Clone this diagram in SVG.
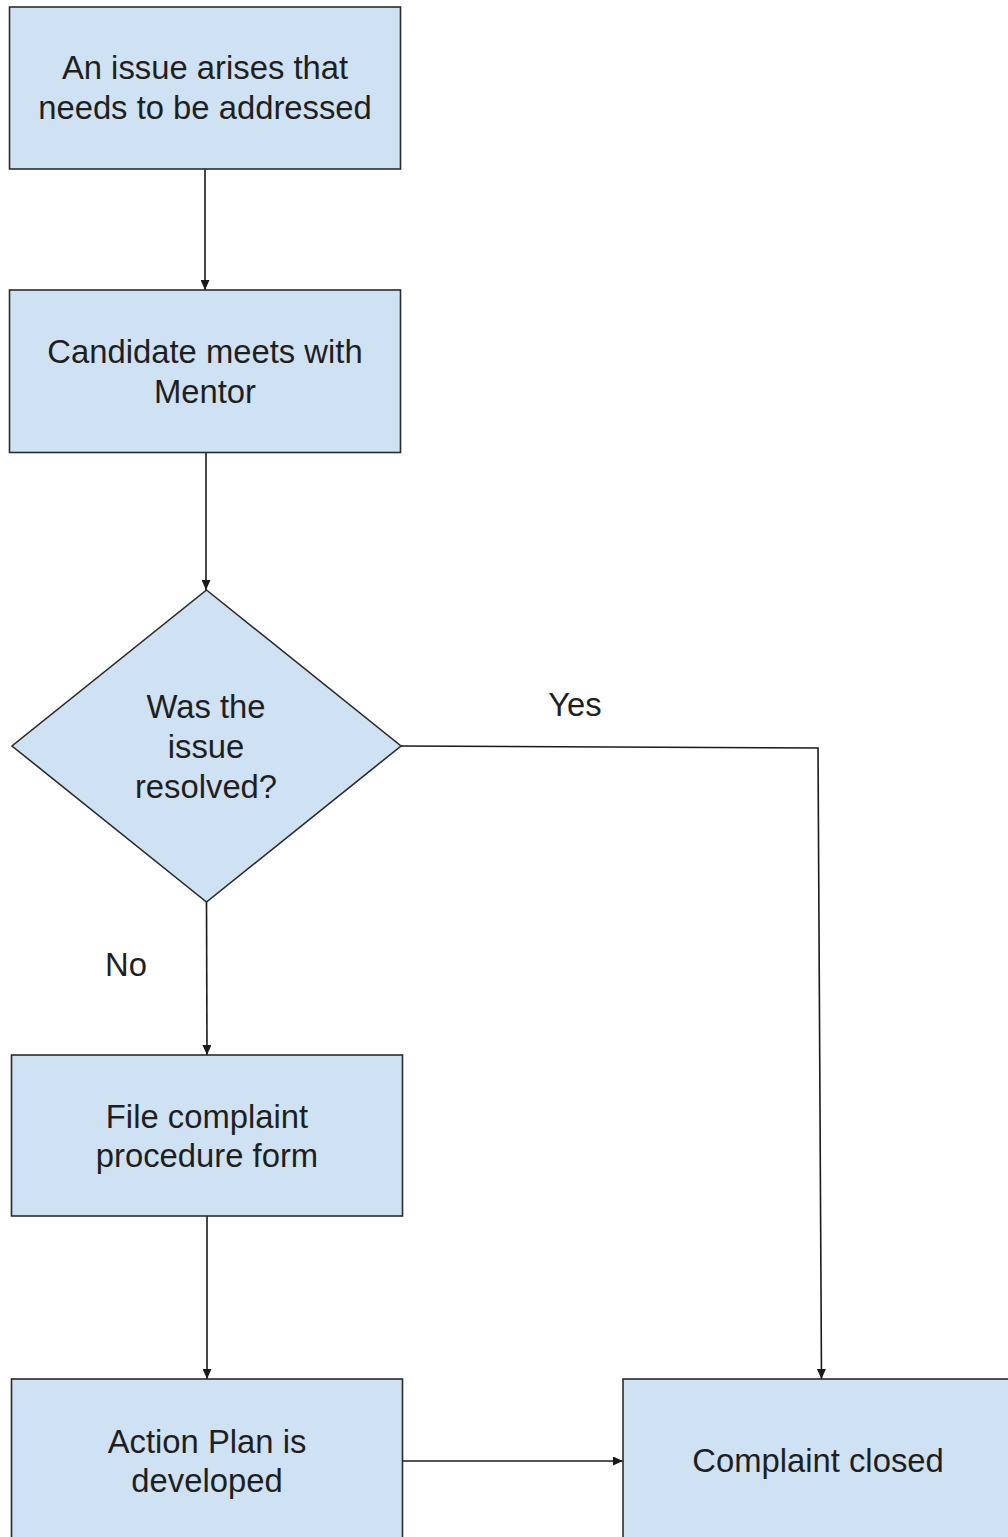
<svg xmlns="http://www.w3.org/2000/svg" width="1008" height="1537" viewBox="0 0 1008 1537">
  <style>
    .box { fill: #cfe2f3; stroke: #2b2b2b; stroke-width: 1.6; }
    .lbl { font-family: "Liberation Sans", Arial, sans-serif; font-size: 32.8px; fill: #1f1f1f; text-anchor: middle; }
    .conn { fill: none; stroke: #1a1a1a; stroke-width: 1.6; }
  </style>
  <defs>
    <marker id="arr" markerUnits="userSpaceOnUse" markerWidth="10" markerHeight="9" refX="10" refY="4.5" orient="auto">
      <path d="M0,0 L10,4.5 L0,9 z" fill="#1a1a1a"/>
    </marker>
  </defs>
  <rect width="1008" height="1537" fill="#ffffff"/>

  <g id="connectors">
    <line class="conn" x1="205" y1="169" x2="205" y2="290" marker-end="url(#arr)"/>
    <line class="conn" x1="206" y1="453" x2="206" y2="590" marker-end="url(#arr)"/>
    <line class="conn" x1="206.5" y1="902" x2="207" y2="1055" marker-end="url(#arr)"/>
    <line class="conn" x1="207" y1="1216" x2="207" y2="1379" marker-end="url(#arr)"/>
    <line class="conn" x1="402" y1="1461" x2="623" y2="1461" marker-end="url(#arr)"/>
    <polyline class="conn" points="401,746 818,748 821.5,1379" marker-end="url(#arr)"/>
    <text class="lbl" x="575" y="716">Yes</text>
    <text class="lbl" x="126" y="976">No</text>
  </g>

  <g id="n1">
    <rect class="box" x="9.5" y="7" width="391" height="162"/>
    <text class="lbl" x="205" y="79">An issue arises that</text>
    <text class="lbl" x="205" y="119">needs to be addressed</text>
  </g>
  <g id="n2">
    <rect class="box" x="9.5" y="290" width="391" height="162.5"/>
    <text class="lbl" x="205" y="363">Candidate meets with</text>
    <text class="lbl" x="205" y="403">Mentor</text>
  </g>
  <g id="n3">
    <polygon class="box" points="206.5,590 401,746 206.5,902 12,746"/>
    <text class="lbl" x="206" y="718">Was the</text>
    <text class="lbl" x="206" y="758">issue</text>
    <text class="lbl" x="206" y="798">resolved?</text>
  </g>
  <g id="n4">
    <rect class="box" x="11.5" y="1055" width="391" height="161"/>
    <text class="lbl" x="207" y="1128">File complaint</text>
    <text class="lbl" x="207" y="1167">procedure form</text>
  </g>
  <g id="n5">
    <rect class="box" x="11.5" y="1379" width="391" height="170"/>
    <text class="lbl" x="207" y="1453">Action Plan is</text>
    <text class="lbl" x="207" y="1492">developed</text>
  </g>
  <g id="n6">
    <rect class="box" x="623" y="1379" width="392" height="170"/>
    <text class="lbl" x="818" y="1472">Complaint closed</text>
  </g>
</svg>
